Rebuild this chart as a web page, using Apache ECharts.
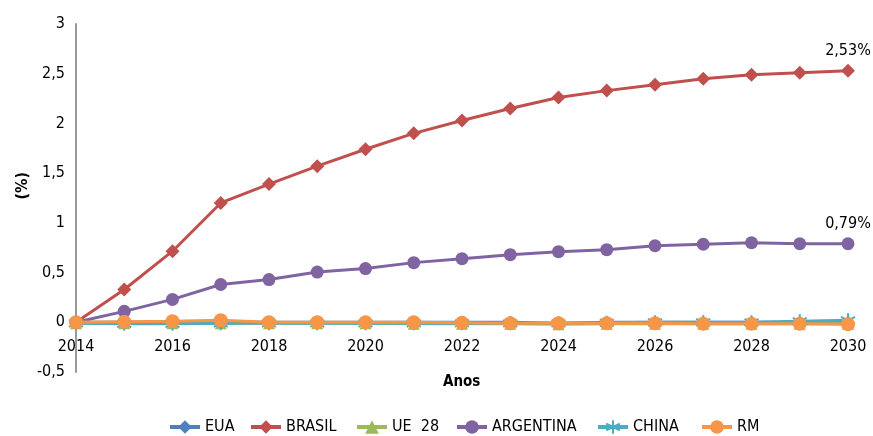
<!DOCTYPE html>
<html>
<head>
<meta charset="utf-8">
<script src="https://cdn.jsdelivr.net/npm/echarts@6/dist/echarts.min.js"></script>
<style>
  html, body { margin: 0; padding: 0; background: #fff; }
  #chart { width: 873px; height: 436px; }
</style>
</head>
<body>
<div id="chart"></div>
<script>
// Years on the horizontal axis
const years = ['2014','2015','2016','2017','2018','2019','2020','2021','2022',
               '2023','2024','2025','2026','2027','2028','2029','2030'];

// Percentage change per region
const eua       = [0, 0, 0, 0, 0, 0, 0, 0, 0, 0, -0.01, 0, 0, 0, 0, 0, 0];
const brasil    = [0, 0.33, 0.715, 1.2, 1.39, 1.57, 1.74, 1.9, 2.03, 2.15, 2.26, 2.33, 2.39, 2.45, 2.49, 2.51, 2.53];
const ue28      = [-0.01, -0.01, -0.01, -0.01, -0.01, -0.01, -0.01, -0.015, -0.015, -0.015, -0.02, -0.015, -0.015, -0.015, -0.015, -0.015, -0.015];
const argentina = [0, 0.11, 0.23, 0.38, 0.43, 0.505, 0.54, 0.6, 0.64, 0.68, 0.71, 0.73, 0.77, 0.785, 0.8, 0.79, 0.79];
const china     = [-0.01, -0.015, -0.015, -0.01, -0.01, -0.01, -0.01, -0.01, -0.01, -0.01, -0.01, -0.005, 0, 0, 0, 0.01, 0.02];
const rm        = [0, 0.005, 0.01, 0.02, 0, 0, 0, 0, -0.005, -0.01, -0.01, -0.01, -0.01, -0.015, -0.015, -0.015, -0.02];

// Legend entries and the left edge of each entry
const legendNames = ['EUA', 'BRASIL', 'UE  28', 'ARGENTINA', 'CHINA', 'RM'];
const legendLefts = [168, 249, 355, 455, 596, 700];

const FONT = '"DejaVu Sans Condensed", "Liberation Sans Narrow", sans-serif';

function fmt(v) { return String(v).replace('.', ','); }

function lineSeries(name, data, color, symbol, size, extra) {
  return Object.assign({
    name: name,
    type: 'line',
    data: data,
    symbol: symbol,
    symbolSize: size,
    lineStyle: { color: color, width: 3 },
    itemStyle: { color: color },
    emphasis: { disabled: true },
    animation: false
  }, extra || {});
}

function endLabel(text) {
  return {
    label: {
      show: true,
      position: 'top',
      distance: 5,
      fontFamily: FONT,
      fontSize: 16,
      color: '#000',
      formatter: function (p) { return p.dataIndex === years.length - 1 ? text : ''; }
    }
  };
}

const legends = legendNames.map(function (name, i) {
  return {
    data: [name],
    left: legendLefts[i],
    top: 419,
    padding: 0,
    itemWidth: 30,
    itemHeight: 17,
    itemGap: 0,
    selectedMode: false,
    lineStyle: { width: 4 },
    textStyle: { fontFamily: FONT, fontSize: 16, color: '#000' }
  };
});

const chart = echarts.init(document.getElementById('chart'), null, { renderer: 'canvas' });

chart.setOption({
  backgroundColor: '#fff',
  animation: false,
  grid: { left: 76, right: 25, top: 24, bottom: 64, containLabel: false },
  legend: legends,
  xAxis: {
    type: 'category',
    data: years,
    boundaryGap: false,
    position: 'bottom',
    offset: -50,
    axisLine: { onZero: false, lineStyle: { color: '#999', width: 1 } },
    axisTick: { show: false },
    axisLabel: {
      interval: 1,
      margin: 17,
      fontFamily: FONT,
      fontSize: 16,
      color: '#000'
    },
    splitLine: { show: false }
  },
  yAxis: {
    type: 'value',
    min: -0.5,
    max: 3,
    interval: 0.5,
    axisLine: { show: true, lineStyle: { color: '#999', width: 2 } },
    axisTick: { show: false },
    splitLine: { show: false },
    axisLabel: {
      margin: 11,
      fontFamily: FONT,
      fontSize: 16,
      color: '#000',
      formatter: fmt
    }
  },
  graphic: [
    {
      type: 'text',
      left: 15,
      top: 172,
      rotation: Math.PI / 2,
      style: { text: '(%)', font: 'bold 16px ' + FONT, fill: '#000' }
    },
    {
      type: 'text',
      left: 443,
      top: 375,
      style: { text: 'Anos', font: 'bold 15px ' + FONT, fill: '#000' }
    }
  ],
  series: [
    lineSeries('EUA', eua, '#4F81BD', 'diamond', 13),
    lineSeries('BRASIL', brasil, '#C0504D', 'diamond', 14, endLabel('2,53%')),
    lineSeries('UE  28', ue28, '#9BBB59', 'triangle', 12),
    lineSeries('ARGENTINA', argentina, '#8064A2', 'circle', 13, endLabel('0,79%')),
    lineSeries('CHINA', china, '#4BACC6', 'path://M0,-6L0,6M-5.2,-3L5.2,3M-5.2,3L5.2,-3', 14,
      { itemStyle: { color: '#4BACC6', borderColor: '#4BACC6', borderWidth: 2 } }),
    lineSeries('RM', rm, '#F79646', 'circle', 14)
  ]
});
</script>
</body>
</html>
